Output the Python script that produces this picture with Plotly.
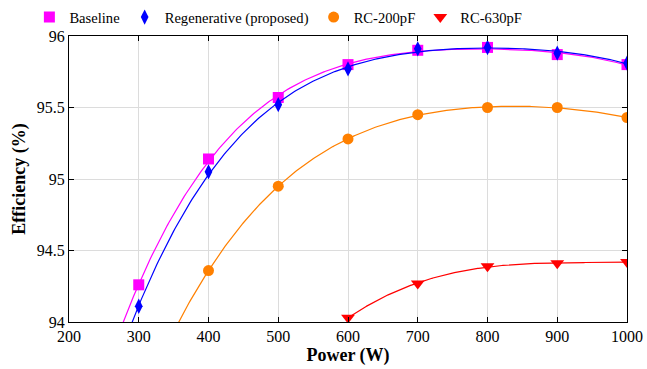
import numpy as np
import plotly.graph_objects as go

power = [300, 400, 500, 600, 700, 800, 900, 1000]
baseline = [94.26, 95.14, 95.57, 95.80, 95.90, 95.92, 95.87, 95.80]
regen = [94.11, 95.05, 95.52, 95.77, 95.91, 95.92, 95.88, 95.81]
power_rc200 = [400, 500, 600, 700, 800, 900, 1000]
rc200 = [94.36, 94.95, 95.28, 95.45, 95.50, 95.50, 95.43]
power_rc630 = [600, 700, 800, 900, 1000]
rc630 = [94.03, 94.27, 94.39, 94.41, 94.42]

series = [
    ("Baseline", power, baseline, "#FF00FF", "square", 11, 4, 270),
    ("Regenerative (proposed)", power, regen, "#0000FF", "diamond-tall", 11, 4, 280),
    ("RC-200pF", power_rc200, rc200, "#FF8000", "circle", 11, 4, 350),
    ("RC-630pF", power_rc630, rc630, "#FF0000", "triangle-down", 12, 3, 600),
]

fig = go.Figure()
for name, xs, ys, color, sym, size, deg, xstart in series:
    xa = np.array(xs, float)
    ya = np.array(ys, float)
    coef = np.polyfit((xa - 650) / 350, ya, deg)
    xd = np.linspace(xstart, 1000, 300)
    yd = np.polyval(coef, (xd - 650) / 350)
    fig.add_trace(go.Scatter(x=xd, y=yd, mode="lines", line=dict(color=color, width=1.2),
                             showlegend=False, hoverinfo="skip"))
    fig.add_trace(go.Scatter(x=xs, y=ys, mode="markers", name=name,
                             marker=dict(color=color, symbol=sym, size=size)))

font = "Liberation Serif"
fig.update_layout(
    width=647, height=369,
    margin=dict(l=69, r=20, t=36, b=47, autoexpand=False),
    paper_bgcolor="white", plot_bgcolor="white",
    font=dict(family=font, size=15, color="black"),
    legend=dict(orientation="h", x=-0.071, y=1.066, xanchor="left", yanchor="middle",
                font=dict(size=14.6), bgcolor="rgba(0,0,0,0)"),
    xaxis=dict(range=[200, 1000], dtick=100, tick0=200, showgrid=True, gridcolor="#dcdcdc",
               gridwidth=1, showline=True, linecolor="black", linewidth=1, mirror="ticks",
               ticks="inside", ticklen=5, tickcolor="black", zeroline=False, automargin=False,
               title=dict(text="<b>Power (W)</b>", font=dict(size=18), standoff=4),
               tickfont=dict(size=16)),
    yaxis=dict(range=[94, 96], tickvals=[94, 94.5, 95, 95.5, 96], automargin=False,
               ticktext=["94", "94.5", "95", "95.5", "96"], showgrid=True, gridcolor="#dcdcdc",
               showline=True, linecolor="black", linewidth=1, mirror="ticks",
               ticks="inside", ticklen=5, tickcolor="black", zeroline=False,
               title=dict(text="<b>Efficiency (%)</b>", font=dict(size=18), standoff=6),
               tickfont=dict(size=16)),
)
fig.write_html("out.html")
